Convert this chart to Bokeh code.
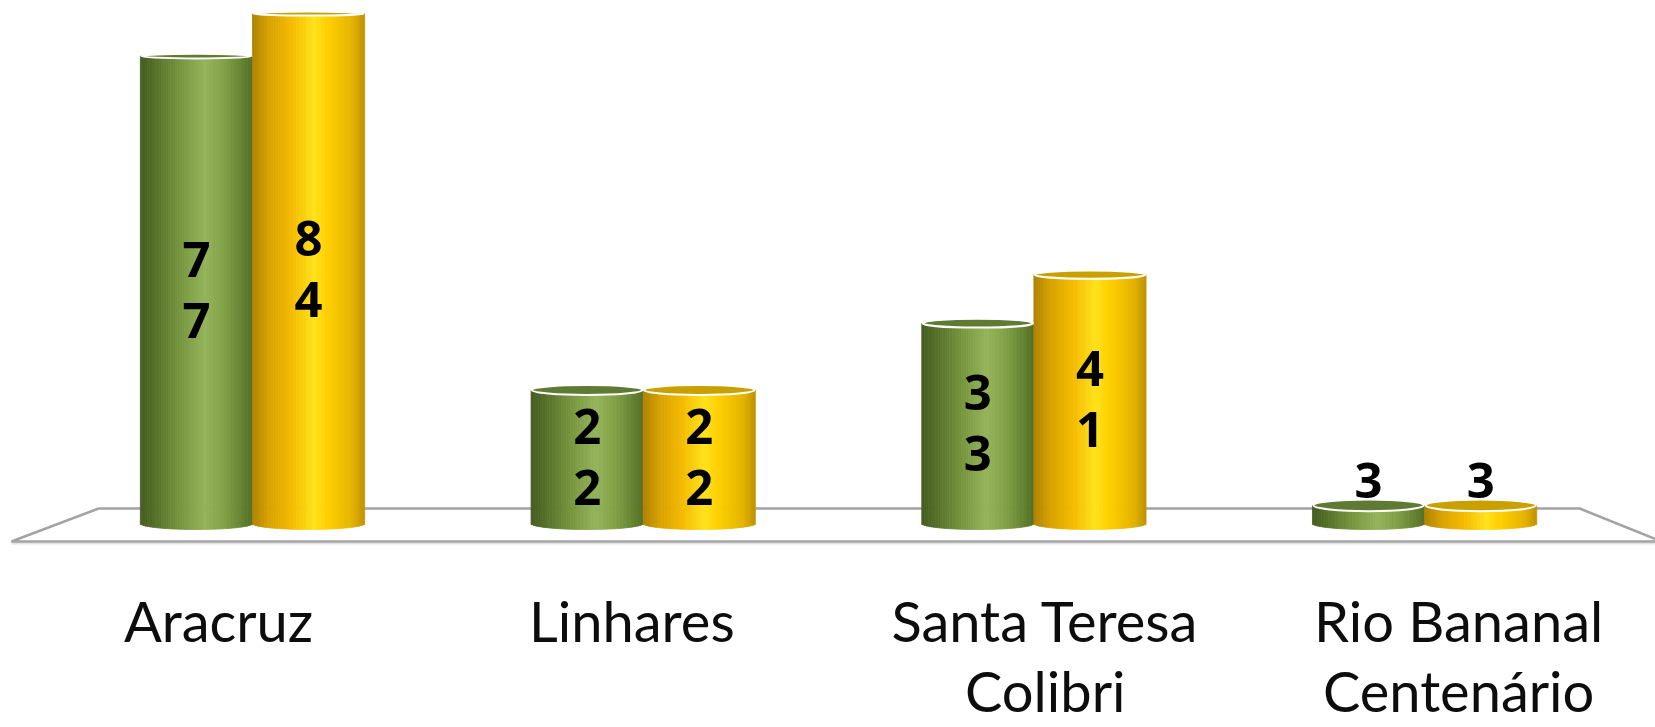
import numpy as np
from bokeh.plotting import figure
from bokeh.models import Range1d, ColumnDataSource
from bokeh.embed import file_html
from bokeh.resources import INLINE
from bokeh.core.properties import value

# ---------------- data ----------------
categories = ["Aracruz", "Linhares", "Santa Teresa\nColibri", "Rio Bananal\nCentenário"]
series_green = [77, 22, 33, 3]
series_gold = [84, 22, 41, 3]

# ---------------- layout / style ----------------
W, H = 1655, 727
PX_PER_CAT = 390.7
PX_PER_VAL = 6.07
X0 = -0.145
Y_ZERO_PX = 523
BAR_W = 0.287
FONT = "Lato"
VFONT = "Open Sans"

green_stops = [(0.0, "#445c20"), (0.12, "#546e29"), (0.35, "#76943e"),
               (0.58, "#95b45a"), (0.75, "#82a146"), (0.92, "#62802f"), (1.0, "#546f27")]
gold_stops = [(0.0, "#ad8200"), (0.15, "#d8a200"), (0.35, "#f4bb00"),
              (0.55, "#ffe21c"), (0.68, "#ffcf00"), (0.9, "#e3b200"), (1.0, "#bf9200")]
green_top = "#5f7b33"
gold_top = "#c9a000"


def hex2rgb(h):
    h = h.lstrip("#")
    return np.array([int(h[i:i + 2], 16) for i in (0, 2, 4)], dtype=float)


def grad(stops, t):
    for (t0, c0), (t1, c1) in zip(stops[:-1], stops[1:]):
        if t0 <= t <= t1:
            f = (t - t0) / (t1 - t0) if t1 > t0 else 0
            c = hex2rgb(c0) * (1 - f) + hex2rgb(c1) * f
            return "#%02x%02x%02x" % tuple(int(round(v)) for v in c)
    return stops[-1][1]


x_range = Range1d(X0, X0 + W / PX_PER_CAT)
y_range = Range1d(-(H - Y_ZERO_PX) / PX_PER_VAL, Y_ZERO_PX / PX_PER_VAL)

p = figure(width=W, height=H, x_range=x_range, y_range=y_range,
           output_backend="svg", toolbar_location=None, min_border=0,
           x_axis_type=None, y_axis_type=None)
p.grid.visible = False
p.outline_line_color = None
p.background_fill_color = "white"
p.border_fill_color = "white"

n = len(categories)

# floor (decorative plane)
back_y, front_y = 15 / PX_PER_VAL, -18 / PX_PER_VAL
floor_x = [0.106, n - 0.103, n + 0.107, -0.117, 0.106]
floor_y = [back_y, back_y, front_y, front_y, back_y]
p.line(x=[-0.117, n + 0.107], y=[front_y - 0.35, front_y - 0.35], line_color="#e3e3e3", line_width=2)
p.line(x=floor_x, y=floor_y, line_color="#a3a3a3", line_width=2.5)

# cylinders
NSTRIP = 48
B_BOTTOM = 6 / PX_PER_VAL  # half height of bottom ellipse in value units
DIGIT_STEP = 61            # px between stacked digits
quads = dict(left=[], right=[], bottom=[], top=[], color=[])
tops = dict(x=[], y=[], w=[], h=[], color=[])
labels = dict(x=[], y=[], text=[], yoff=[])
for i in range(n):
    cc = i + 0.5
    for vals, off, stops, topc in ((series_green, -BAR_W / 2, green_stops, green_top),
                                    (series_gold, BAR_W / 2, gold_stops, gold_top)):
        v = vals[i]
        cx = cc + off
        edges = np.linspace(0, 1, NSTRIP + 1)
        for a, b in zip(edges[:-1], edges[1:]):
            tm = (a + b) / 2
            quads["left"].append(cx - BAR_W / 2 + a * BAR_W)
            quads["right"].append(cx - BAR_W / 2 + b * BAR_W)
            quads["bottom"].append(-B_BOTTOM * np.sqrt(max(0.0, 1 - (2 * tm - 1) ** 2)))
            quads["top"].append(v)
            quads["color"].append(grad(stops, tm))
        h_px = 12 - v * PX_PER_VAL * 8 / 510
        tops["x"].append(cx)
        tops["y"].append(v)
        tops["w"].append(BAR_W * 0.985)
        tops["h"].append(h_px / PX_PER_VAL)
        tops["color"].append(topc)
        digits = str(v)
        k = len(digits)
        if v * PX_PER_VAL > DIGIT_STEP * k + 10:
            for j, d in enumerate(digits):
                labels["x"].append(cx)
                labels["y"].append(v / 2)
                labels["text"].append(d)
                labels["yoff"].append((j - (k - 1) / 2) * DIGIT_STEP)
        else:
            labels["x"].append(cx)
            labels["y"].append(v + 25 / PX_PER_VAL)
            labels["text"].append(digits)
            labels["yoff"].append(0)

p.quad(left="left", right="right", bottom="bottom", top="top", fill_color="color",
       line_color="color", line_width=0.8, source=ColumnDataSource(quads))
p.ellipse(x="x", y="y", width="w", height="h", fill_color="color",
          line_color="white", line_width=2, source=ColumnDataSource(tops))

p.text(x="x", y="y", text="text", y_offset="yoff", source=ColumnDataSource(labels),
       text_font=value(VFONT), text_font_style="bold", text_font_size="49px",
       text_align="center", text_baseline="middle", text_color="black")

# category labels (spread slightly for the perspective front edge)
cat_x, cat_y, cat_t = [], [], []
for i, c in enumerate(categories):
    lx = n / 2 + (i + 0.5 - n / 2) * 1.058
    for j, line in enumerate(c.split("\n")):
        cat_x.append(lx)
        cat_y.append(-(97 + j * 70) / PX_PER_VAL)
        cat_t.append(line)
p.text(x=cat_x, y=cat_y, text=cat_t, text_font=value(FONT), text_font_size="56px",
       text_align="center", text_baseline="middle", text_color="#0d0d0d")

open("out.html", "w").write(file_html(p, INLINE))
